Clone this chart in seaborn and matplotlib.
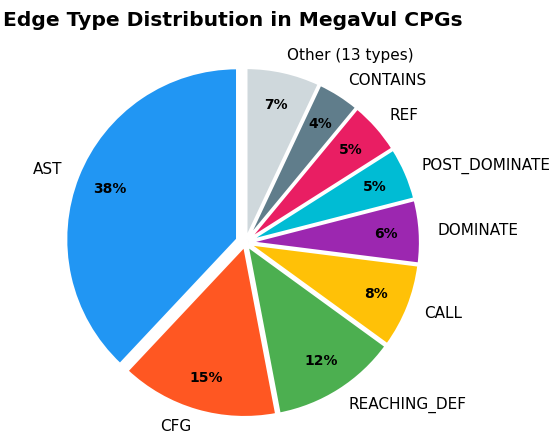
import matplotlib
matplotlib.use("Agg")
import matplotlib.pyplot as plt
import seaborn as sns

sns.set_theme(style="white")
plt.rcParams['font.family'] = ['DejaVu Sans']
plt.rcParams['text.color'] = 'black'

# Edge type shares (percent)
edge_types = ['AST', 'CFG', 'REACHING_DEF', 'CALL', 'DOMINATE',
              'POST_DOMINATE', 'REF', 'CONTAINS', 'Other (13 types)']
shares = [38, 15, 12, 8, 6, 5, 5, 4, 7]
colors = ['#2196F3', '#FF5722', '#4CAF50', '#FFC107', '#9C27B0',
          '#00BCD4', '#E91E63', '#607D8B', '#CFD8DC']
explode = [0.05, 0.02, 0.02, 0.02, 0.02, 0.02, 0.02, 0.02, 0.02]

fig = plt.figure(figsize=(5.5, 4.37), dpi=100)
ax = fig.add_axes([-0.008, 0.005, 0.9, 0.88])

wedges, texts, autotexts = ax.pie(
    shares, labels=edge_types, colors=colors, explode=explode,
    startangle=90, autopct='%1.0f%%', pctdistance=0.8,
    labeldistance=1.1,
    wedgeprops={'edgecolor': 'white', 'linewidth': 2})
for t in texts:
    t.set_fontsize(11)
    t.set_color('black')
for t in autotexts:
    t.set_fontsize(10)
    t.set_fontweight('bold')
    t.set_color('black')
ax.axis('equal')

fig.text(0.005, 0.975, 'Edge Type Distribution in MegaVul CPGs',
         fontsize=14.6, fontweight='bold', va='top', ha='left', color='black')

fig.savefig('out.png', dpi=100)
